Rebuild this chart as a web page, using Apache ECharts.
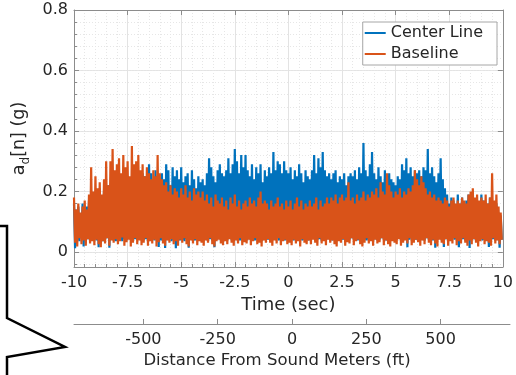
<!DOCTYPE html>
<html>
<head>
<meta charset="utf-8">
<script src="https://cdn.jsdelivr.net/npm/echarts@6/dist/echarts.min.js"></script>
<style>
  html, body { margin: 0; padding: 0; background: #fff; }
  #chart { width: 516px; height: 375px; }
</style>
</head>
<body>
<div id="chart"></div>
<script>
// Vertical acceleration envelopes, one value per 0.1 s bin from -10 s to +10 s.
// "hi" = peak of the bin, "lo" = trough of the bin.
const timeStart = -10;
const binWidth = 0.1;

const centerHi = [
  0.16,0.14,0.15,0.12,0.16,0.13,0.15,0.17,0.14,0.18,
  0.19,0.16,0.21,0.18,0.20,0.17,0.22,0.19,0.21,0.20,
  0.22,0.20,0.24,0.21,0.23,0.25,0.22,0.24,0.26,0.23,
  0.24,0.22,0.26,0.25,0.23,0.29,0.26,0.24,0.27,0.25,
  0.23,0.26,0.24,0.29,0.27,0.22,0.28,0.25,0.27,0.24,
  0.28,0.23,0.25,0.26,0.22,0.27,0.24,0.21,0.25,0.23,
  0.24,0.22,0.26,0.31,0.28,0.25,0.23,0.27,0.29,0.26,
  0.25,0.27,0.31,0.26,0.29,0.34,0.30,0.26,0.32,0.28,
  0.32,0.27,0.25,0.29,0.24,0.28,0.26,0.29,0.23,0.27,
  0.25,0.28,0.26,0.33,0.27,0.30,0.29,0.26,0.30,0.27,
  0.26,0.28,0.24,0.27,0.25,0.29,0.26,0.23,0.27,0.25,
  0.24,0.27,0.32,0.26,0.31,0.28,0.33,0.27,0.25,0.26,
  0.24,0.26,0.27,0.23,0.25,0.24,0.26,0.22,0.25,0.26,
  0.25,0.27,0.24,0.28,0.26,0.36,0.27,0.25,0.29,0.33,
  0.26,0.24,0.28,0.25,0.23,0.27,0.25,0.26,0.24,0.23,
  0.22,0.25,0.24,0.29,0.27,0.31,0.26,0.28,0.25,0.27,
  0.26,0.27,0.25,0.28,0.27,0.34,0.26,0.28,0.25,0.23,
  0.26,0.31,0.24,0.21,0.19,0.16,0.18,0.17,0.15,0.19,
  0.16,0.18,0.15,0.17,0.19,0.16,0.15,0.17,0.14,0.16,
  0.19,0.17,0.15,0.16,0.18,0.15,0.14,0.16,0.13,0.12
];
const centerLo = [
  0.012,0.040,0.035,0.045,0.018,0.038,0.042,0.035,0.040,0.045,
  0.038,0.015,0.042,0.035,0.040,0.045,0.014,0.040,0.038,0.035,
  0.045,0.040,0.035,0.042,0.038,0.045,0.040,0.035,0.042,0.040,
  0.040,0.045,0.038,0.042,0.035,0.040,0.045,0.038,0.042,0.016,
  0.038,0.042,0.013,0.040,0.045,0.035,0.040,0.012,0.042,0.038,
  0.040,0.035,0.042,0.014,0.040,0.045,0.038,0.040,0.042,0.035,
  0.045,0.040,0.035,0.042,0.038,0.015,0.040,0.045,0.038,0.042,
  0.040,0.038,0.045,0.040,0.035,0.042,0.040,0.038,0.045,0.040,
  0.038,0.042,0.040,0.045,0.038,0.040,0.042,0.035,0.040,0.045,
  0.040,0.038,0.042,0.040,0.045,0.038,0.040,0.042,0.038,0.040,
  0.042,0.040,0.038,0.045,0.040,0.042,0.038,0.040,0.045,0.038,
  0.040,0.045,0.038,0.040,0.042,0.038,0.045,0.040,0.042,0.040,
  0.038,0.040,0.042,0.045,0.038,0.040,0.042,0.038,0.040,0.045,
  0.040,0.042,0.038,0.040,0.045,0.040,0.038,0.042,0.040,0.038,
  0.042,0.038,0.040,0.045,0.040,0.038,0.042,0.040,0.045,0.040,
  0.040,0.045,0.038,0.040,0.042,0.015,0.040,0.045,0.038,0.040,
  0.038,0.040,0.042,0.038,0.045,0.040,0.042,0.038,0.014,0.040,
  0.045,0.040,0.016,0.042,0.040,0.038,0.045,0.040,0.042,0.015,
  0.040,0.042,0.038,0.045,0.013,0.040,0.042,0.038,0.040,0.045,
  0.038,0.040,0.045,0.016,0.040,0.042,0.038,0.045,0.014,0.040
];
const baselineHi = [
  0.18,0.14,0.16,0.13,0.15,0.17,0.14,0.19,0.28,0.20,
  0.25,0.21,0.23,0.19,0.24,0.30,0.22,0.30,0.34,0.27,
  0.29,0.31,0.26,0.32,0.28,0.30,0.25,0.35,0.29,0.30,
  0.32,0.27,0.29,0.25,0.28,0.26,0.24,0.27,0.25,0.32,
  0.26,0.24,0.22,0.23,0.20,0.22,0.19,0.21,0.20,0.18,
  0.21,0.19,0.22,0.18,0.20,0.17,0.21,0.19,0.20,0.18,
  0.20,0.17,0.19,0.16,0.18,0.15,0.19,0.17,0.16,0.18,
  0.15,0.17,0.14,0.18,0.16,0.19,0.15,0.17,0.14,0.16,
  0.17,0.15,0.18,0.16,0.17,0.15,0.18,0.20,0.16,0.17,
  0.16,0.14,0.17,0.15,0.16,0.18,0.15,0.16,0.14,0.17,
  0.15,0.17,0.14,0.16,0.18,0.15,0.17,0.14,0.16,0.15,
  0.17,0.15,0.16,0.18,0.14,0.17,0.15,0.16,0.18,0.16,
  0.18,0.17,0.19,0.16,0.18,0.19,0.17,0.18,0.23,0.17,
  0.18,0.16,0.19,0.17,0.18,0.20,0.17,0.19,0.18,0.20,
  0.19,0.21,0.18,0.23,0.20,0.19,0.26,0.22,0.20,0.18,
  0.20,0.19,0.21,0.18,0.20,0.19,0.21,0.20,0.22,0.27,
  0.24,0.22,0.25,0.23,0.21,0.19,0.20,0.18,0.19,0.17,
  0.18,0.17,0.16,0.18,0.17,0.15,0.17,0.18,0.16,0.17,
  0.16,0.18,0.17,0.16,0.19,0.20,0.21,0.18,0.19,0.17,
  0.18,0.17,0.19,0.16,0.18,0.26,0.17,0.19,0.15,0.13
];
const baselineLo = [
  0.030,0.018,0.045,0.025,0.038,0.020,0.042,0.028,0.035,0.022,
  0.040,0.025,0.015,0.035,0.028,0.045,0.020,0.038,0.030,0.042,
  0.025,0.035,0.048,0.020,0.032,0.040,0.018,0.030,0.045,0.025,
  0.038,0.022,0.030,0.045,0.020,0.035,0.028,0.040,0.018,0.032,
  0.045,0.028,0.020,0.038,0.030,0.042,0.025,0.035,0.020,0.040,
  0.030,0.045,0.025,0.018,0.038,0.028,0.042,0.022,0.035,0.030,
  0.020,0.038,0.030,0.045,0.025,0.018,0.035,0.040,0.028,0.022,
  0.035,0.025,0.042,0.030,0.020,0.038,0.028,0.045,0.022,0.032,
  0.028,0.040,0.022,0.035,0.045,0.025,0.030,0.018,0.038,0.030,
  0.042,0.030,0.020,0.038,0.028,0.045,0.022,0.035,0.040,0.025,
  0.030,0.022,0.040,0.028,0.035,0.018,0.042,0.030,0.025,0.038,
  0.025,0.040,0.030,0.020,0.045,0.028,0.035,0.022,0.040,0.030,
  0.038,0.025,0.018,0.035,0.030,0.042,0.020,0.032,0.028,0.045,
  0.022,0.035,0.040,0.025,0.018,0.030,0.045,0.028,0.035,0.020,
  0.040,0.028,0.032,0.045,0.022,0.038,0.025,0.018,0.035,0.030,
  0.025,0.042,0.020,0.030,0.038,0.028,0.045,0.022,0.030,0.040,
  0.032,0.020,0.038,0.025,0.045,0.030,0.022,0.040,0.028,0.018,
  0.040,0.030,0.025,0.042,0.020,0.035,0.028,0.045,0.022,0.035,
  0.028,0.045,0.030,0.020,0.038,0.025,0.042,0.030,0.018,0.035,
  0.042,0.025,0.035,0.030,0.020,0.045,0.028,0.038,0.025,0.040
];

// Axis ticks
const timeTicks = [-10, -7.5, -5, -2.5, 0, 2.5, 5, 7.5, 10];
const distanceTicks = [-500, -250, 0, 250, 500];
const distanceRange = [-733.3, 733.3]; // ft covered over the +/-10 s window

const FONT = 'DejaVu Sans';
const TEXT = '#262626';
const AXIS = '#8c8c8c';

// Each bin becomes a peak followed by a trough, giving the dense trace look.
function trace(hi, lo) {
  const pts = [];
  for (let k = 0; k < hi.length; k++) {
    const t = timeStart + k * binWidth;
    pts.push([+t.toFixed(3), hi[k]]);
    pts.push([+(t + binWidth / 2).toFixed(3), lo[k]]);
  }
  return pts;
}

const chart = echarts.init(document.getElementById('chart'), null, { renderer: 'canvas' });

chart.setOption({
  animation: false,
  backgroundColor: '#fff',
  textStyle: { fontFamily: FONT, color: TEXT },
  grid: [
    { left: 74, right: 6, top: 10, bottom: 108 },
    { left: 74, right: 6, top: 323, height: 1 }
  ],
  legend: {
    data: ['Center Line', 'Baseline'],
    orient: 'vertical',
    right: 19,
    top: 22,
    padding: [3, 14, 3, 2],
    itemWidth: 21,
    itemHeight: 2,
    itemGap: 5,
    icon: 'rect',
    backgroundColor: '#fff',
    borderColor: '#a6a6a6',
    borderWidth: 1,
    borderRadius: 0,
    textStyle: { fontFamily: FONT, fontSize: 16, color: TEXT, lineHeight: 16 }
  },
  xAxis: [
    {
      gridIndex: 0, type: 'value', position: 'bottom',
      min: timeTicks[0], max: timeTicks[timeTicks.length - 1], interval: 2.5,
      name: 'Time (sec)', nameLocation: 'middle', nameGap: 27,
      nameTextStyle: { fontFamily: FONT, fontSize: 18, color: TEXT },
      axisLine: { show: true, onZero: false, lineStyle: { color: AXIS, width: 1 } },
      axisTick: { show: true, inside: true, length: 5, lineStyle: { color: AXIS } },
      minorTick: { show: true, splitNumber: 5, length: 3, lineStyle: { color: AXIS } },
      axisLabel: { fontFamily: FONT, fontSize: 16, color: TEXT, margin: 8 },
      splitLine: { show: true, lineStyle: { color: '#e3e3e3', width: 1 } },
      minorSplitLine: { show: true, lineStyle: { color: '#e6e6e6', width: 1, type: [1, 2] } }
    },
    {
      gridIndex: 0, type: 'value', position: 'top',
      min: timeTicks[0], max: timeTicks[timeTicks.length - 1], interval: 2.5,
      axisLine: { show: true, onZero: false, lineStyle: { color: AXIS, width: 1 } },
      axisTick: { show: true, inside: true, length: 5, lineStyle: { color: AXIS } },
      axisLabel: { show: false },
      splitLine: { show: false }
    },
    {
      gridIndex: 1, type: 'value', position: 'bottom',
      min: distanceRange[0], max: distanceRange[1],
      name: 'Distance From Sound Meters (ft)', nameLocation: 'middle', nameGap: 28,
      nameTextStyle: { fontFamily: FONT, fontSize: 16.5, color: TEXT, padding: [0, 30, 0, 0] },
      axisLine: { show: true, onZero: false, lineStyle: { color: AXIS, width: 1 } },
      axisTick: { show: true, inside: true, length: 5, customValues: distanceTicks, lineStyle: { color: AXIS } },
      axisLabel: { fontFamily: FONT, fontSize: 16, color: TEXT, margin: 8, customValues: distanceTicks },
      splitLine: { show: false }
    }
  ],
  yAxis: [
    {
      gridIndex: 0, type: 'value', position: 'left',
      min: -0.05, max: 0.8,
      name: '{m|a}{s|d}{m|[n] (g)}', nameLocation: 'middle', nameGap: 40,
      nameTextStyle: {
        fontFamily: FONT, color: TEXT,
        rich: {
          m: { fontFamily: FONT, fontSize: 17.5, lineHeight: 18, verticalAlign: 'top', color: TEXT },
          s: { fontFamily: FONT, fontSize: 12, lineHeight: 12, padding: [9, 0, 0, 0], verticalAlign: 'top', color: TEXT }
        }
      },
      axisLine: { show: true, onZero: false, lineStyle: { color: AXIS, width: 1 } },
      axisTick: { show: true, inside: true, length: 5, lineStyle: { color: AXIS } },
      axisLabel: { fontFamily: FONT, fontSize: 16, color: TEXT, margin: 6, showMinLabel: false,
                   formatter: v => (v < 0 ? '' : String(+v.toFixed(2))) },
      splitLine: { show: true, lineStyle: { color: '#e3e3e3', width: 1 } }
    },
    {
      // minor grid every 0.04 g
      gridIndex: 0, type: 'value', position: 'left',
      min: -0.05, max: 0.8, minInterval: 0.04, maxInterval: 0.04,
      axisLine: { show: false, onZero: false },
      axisTick: { show: true, inside: true, length: 3, lineStyle: { color: AXIS } },
      axisLabel: { show: false },
      splitLine: { show: true, lineStyle: { color: '#e6e6e6', width: 1, type: [1, 2] } }
    },
    {
      gridIndex: 0, type: 'value', position: 'right',
      min: -0.05, max: 0.8,
      axisLine: { show: true, onZero: false, lineStyle: { color: AXIS, width: 1 } },
      axisTick: { show: true, inside: true, length: 5, lineStyle: { color: AXIS } },
      axisLabel: { show: false },
      splitLine: { show: false }
    },
    { gridIndex: 1, type: 'value', show: false, min: 0, max: 1 }
  ],
  series: [
    {
      name: 'Center Line', type: 'line', xAxisIndex: 0, yAxisIndex: 0,
      data: trace(centerHi, centerLo),
      showSymbol: false, symbol: 'none', sampling: null,
      color: '#0072BD',
      lineStyle: { color: '#0072BD', width: 2.2, join: 'bevel' },
      clip: true, z: 3
    },
    {
      name: 'Baseline', type: 'line', xAxisIndex: 0, yAxisIndex: 0,
      data: trace(baselineHi, baselineLo),
      showSymbol: false, symbol: 'none', sampling: null,
      color: '#D95319',
      lineStyle: { color: '#D95319', width: 2.2, join: 'bevel' },
      clip: true, z: 4
    }
  ],
  graphic: [
    {
      // callout pointer on the left margin
      type: 'polyline',
      shape: { points: [[0, 226], [7, 226], [7, 318], [65, 347], [7, 357], [7, 376]] },
      style: { stroke: '#000', lineWidth: 2.5, fill: null, lineJoin: 'miter' },
      z: 10
    }
  ]
});
</script>
</body>
</html>
